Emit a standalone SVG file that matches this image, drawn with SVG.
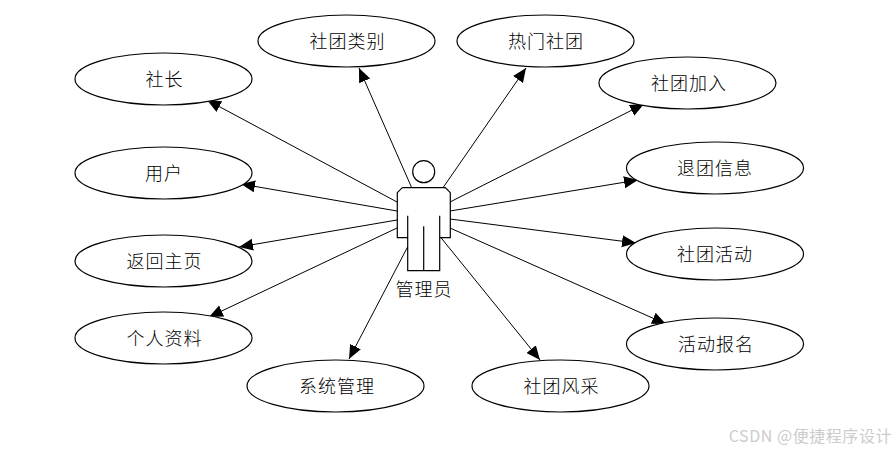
<svg xmlns="http://www.w3.org/2000/svg" width="896" height="451" viewBox="0 0 896 451">
<style>
.n ellipse{fill:#fff;stroke:#000;stroke-width:1.2}
text{font-family:"Noto Sans CJK SC","Liberation Serif",serif;font-size:18px;font-weight:300;fill:#000;text-anchor:middle;dominant-baseline:central;letter-spacing:1px}
#connectors line{stroke:#000;stroke-width:1;marker-end:url(#a)}
#actor circle,#actor path{fill:none;stroke:#000;stroke-width:1.2}
#actor text{fill:#000;stroke:none}
#wm{font-size:16px;fill:#ccc;font-weight:400;text-anchor:end;letter-spacing:.55px}
</style>
<defs><marker id="a" markerUnits="userSpaceOnUse" markerWidth="15" markerHeight="13" refX="14" refY="6" orient="auto"><path d="M0 0L14 6L0 12Z" fill="#000"/></marker></defs>
<rect width="896" height="451" fill="#fff"/>
<g id="connectors">
<line x1="397" y1="202" x2="207" y2="100"/>
<line x1="411.7" y1="187.7" x2="359" y2="68"/>
<line x1="443" y1="187.7" x2="526" y2="68"/>
<line x1="450" y1="202" x2="644" y2="104"/>
<line x1="450" y1="211" x2="638" y2="180"/>
<line x1="450" y1="219" x2="636" y2="243"/>
<line x1="450" y1="228" x2="666" y2="324"/>
<line x1="441" y1="237.7" x2="540" y2="360"/>
<line x1="407.7" y1="246.7" x2="349" y2="359"/>
<line x1="397" y1="228" x2="209" y2="317"/>
<line x1="397" y1="220" x2="239" y2="247"/>
<line x1="397" y1="211" x2="241" y2="184"/>
</g>
<g id="actor">
<circle cx="423.7" cy="171.7" r="11"/>
<path d="M402.3 187.7H445.3L450.3 192.7V237.7H439.7V215.7M439.7 237.7V270.7H407.7V215.7M407.7 237.7H397.3V192.7L402.3 187.7M423.7 226.3V270.7"/>
<text x="424" y="288">管理员</text>
</g>
<g id="n1" class="n"><ellipse cx="163.5" cy="79" rx="88.5" ry="26"/><text x="164.5" y="78">社长</text></g>
<g id="n2" class="n"><ellipse cx="346.5" cy="41" rx="88.5" ry="26"/><text x="347.5" y="40">社团类别</text></g>
<g id="n3" class="n"><ellipse cx="545.5" cy="41" rx="88.5" ry="26"/><text x="546" y="40">热门社团</text></g>
<g id="n4" class="n"><ellipse cx="687.5" cy="83" rx="88.5" ry="26"/><text x="689" y="82">社团加入</text></g>
<g id="n5" class="n"><ellipse cx="715" cy="168" rx="88.5" ry="26"/><text x="715" y="167">退团信息</text></g>
<g id="n6" class="n"><ellipse cx="715" cy="254" rx="88.5" ry="26"/><text x="715" y="253">社团活动</text></g>
<g id="n7" class="n"><ellipse cx="715" cy="344" rx="88.5" ry="26"/><text x="716" y="343">活动报名</text></g>
<g id="n8" class="n"><ellipse cx="560.5" cy="386" rx="88.5" ry="26"/><text x="561.5" y="385">社团风采</text></g>
<g id="n9" class="n"><ellipse cx="335.5" cy="386" rx="88.5" ry="26"/><text x="337" y="385">系统管理</text></g>
<g id="n10" class="n"><ellipse cx="163.5" cy="338" rx="88.5" ry="26"/><text x="164.5" y="337">个人资料</text></g>
<g id="n11" class="n"><ellipse cx="163.5" cy="261" rx="88.5" ry="26"/><text x="164.5" y="260">返回主页</text></g>
<g id="n12" class="n"><ellipse cx="163.5" cy="173" rx="88.5" ry="26"/><text x="164" y="172">用户</text></g>
<text id="wm" x="892" y="435">CSDN @便捷程序设计</text>
</svg>
